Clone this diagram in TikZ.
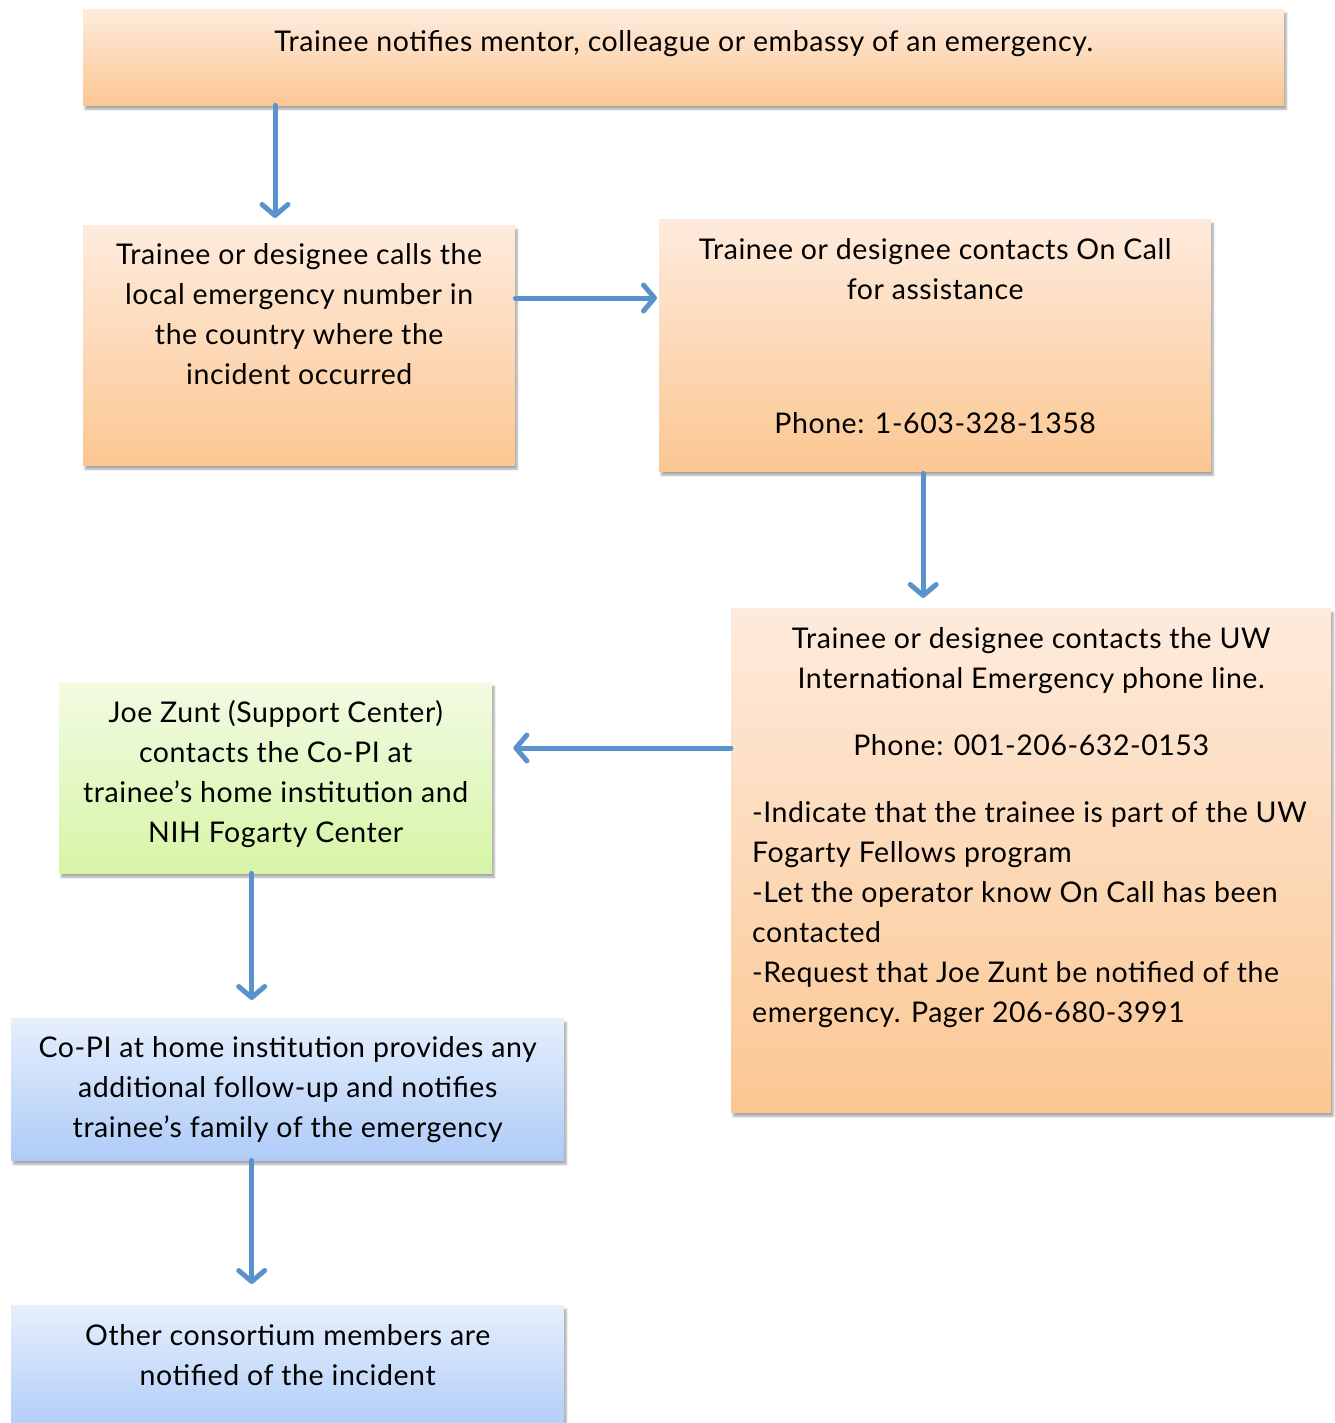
\documentclass[tikz,border=0pt]{standalone}
\usepackage{fontspec}
\setmainfont{Lato}[LetterSpace=2.0]
\usetikzlibrary{positioning, arrows.meta, shadows.blur}

\definecolor{peachtop}{HTML}{FEEBDD}
\definecolor{peachbot}{HTML}{FBC792}
\definecolor{limetop}{HTML}{F2FBE3}
\definecolor{limebot}{HTML}{D6F5A6}
\definecolor{skytop}{HTML}{E6EFFC}
\definecolor{skybot}{HTML}{AECBF8}
\definecolor{flowblue}{HTML}{5A93CB}

\tikzset{
    box/.style={rectangle, inner sep=0pt, anchor=north west,
        blur shadow={shadow xshift=2pt, shadow yshift=-4pt, shadow blur steps=6, shadow opacity=35}},
    peach/.style={box, top color=peachtop, bottom color=peachbot},
    lime/.style={box, top color=limetop, bottom color=limebot},
    sky/.style={box, top color=skytop, bottom color=skybot},
    txt/.style={inner sep=0pt, align=center, font=\fontsize{28.5}{40}\selectfont},
    flow/.style={line width=5pt, flowblue, line cap=round, line join=round,
        -{Straight Barb[length=11pt, width=26pt, line cap=round, line join=round]}}
}

\begin{document}
\begin{tikzpicture}[x=1pt, y=-1pt]
        \useasboundingbox (0,0) rectangle (1334,1423);

        % Boxes
        \node[peach, minimum width=1201pt, minimum height=96pt] (notify) at (83,9) {};
        \node[peach, minimum width=432pt, minimum height=240pt] (call) at (83,225) {};
        \node[peach, minimum width=552pt, minimum height=252pt] (oncall) at (659,219) {};
        \node[peach, minimum width=600pt, minimum height=504pt] (uw) at (731,608) {};
        \node[lime, minimum width=433pt, minimum height=191pt] (support) at (59,682) {};
        \node[sky, minimum width=553pt, minimum height=142pt] (copi) at (11,1018) {};
        \node[sky, minimum width=553pt, minimum height=130pt] (others) at (11,1305) {};

        % Labels
        \node[txt, below=21pt of notify.north] {Trainee notifies mentor, colleague or embassy of an emergency.};
        \node[txt, below=18pt of call.north] {Trainee or designee calls the\\local emergency number in\\the country where the\\incident occurred};
        \node[txt, below=19pt of oncall.north] {Trainee or designee contacts On Call\\for assistance};
        \node[txt, below=193pt of oncall.north] {Phone: 1-603-328-1358};
        \node[txt, below=19pt of uw.north] {Trainee or designee contacts the UW\\International Emergency phone line.};
        \node[txt, below=126pt of uw.north] {Phone: 001-206-632-0153};
        \node[txt, align=left, anchor=north west] at (752,801) {-Indicate that the trainee is part of the UW\\Fogarty Fellows program\\-Let the operator know On Call has been\\contacted\\-Request that Joe Zunt be notified of the\\emergency. Pager 206-680-3991};
        \node[txt, below=18pt of support.north] {Joe Zunt (Support Center)\\contacts the Co-PI at\\trainee’s home institution and\\NIH Fogarty Center};
        \node[txt, below=18pt of copi.north] {Co-PI at home institution provides any\\additional follow-up and notifies\\trainee’s family of the emergency};
        \node[txt, below=19pt of others.north] {Other consortium members are\\notified of the incident};

        % Arrows
        \draw[flow] ([xshift=192pt]notify.south west) -- ([xshift=192pt, yshift=7pt]call.north west);
        \draw[flow] ([yshift=-73pt]call.north east) -- ([yshift=-73pt, xshift=-2pt]call.north east -| oncall.west);
        \draw[flow] ([xshift=-12pt, yshift=-2pt]oncall.south) -- ([xshift=-12pt, yshift=10pt]oncall.south |- uw.north);
        \draw[flow] ([yshift=-140pt]uw.north west) -- ([yshift=-140pt, xshift=21pt]uw.north west -| support.east);
        \draw[flow] ([xshift=-24pt]support.south) -- ([xshift=-24pt, yshift=18pt]support.south |- copi.north);
        \draw[flow] ([xshift=-36pt]copi.south) -- ([xshift=-36pt, yshift=21pt]copi.south |- others.north);
    \end{tikzpicture}
\end{document}
